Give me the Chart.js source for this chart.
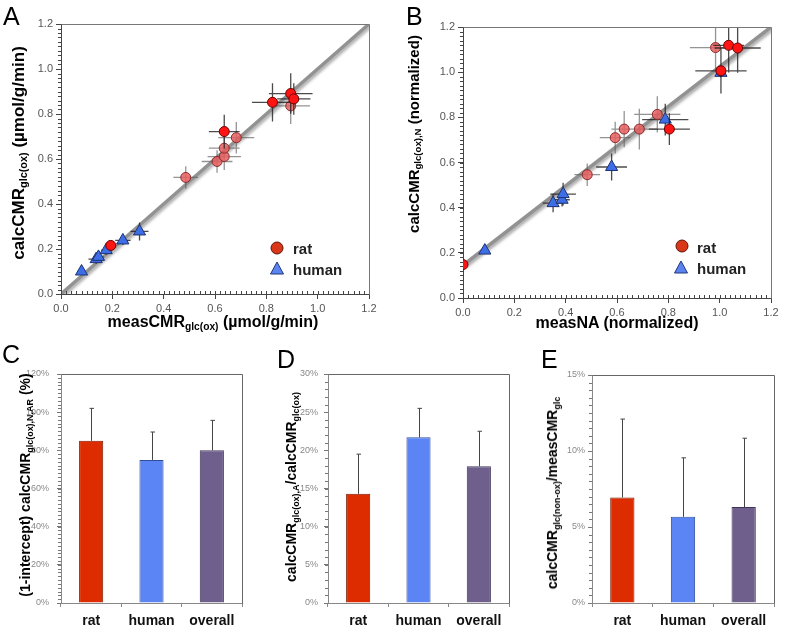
<!DOCTYPE html>
<html lang="en">
<head>
<meta charset="utf-8">
<title>calcCMR vs measCMR</title>
<script src="https://cdn.jsdelivr.net/npm/chart.js"></script>
<style>
    body { margin: 0; background: #fff; font-family: "Liberation Sans", Arial, sans-serif; }
    #fig { position: relative; width: 785px; height: 630px; overflow: hidden; }
    canvas { position: absolute; }
    .letter { position: absolute; font-size: 25px; line-height: 1; color: #000; }
    .ytitle, .xtitle { position: absolute; white-space: nowrap; font-weight: bold; color: #000; line-height: 1; }
    .ytitle { transform: translate(-50%, -50%) rotate(-90deg); }
    .xtitle { transform: translate(-50%, -50%); }
    sub { font-size: 0.64em; vertical-align: -0.3em; line-height: 0; }
    .leg { position: absolute; font-size: 15px; font-weight: bold; color: #222; line-height: 1; transform: translateY(-50%); }
    .dot { position: absolute; width: 11px; height: 11px; border-radius: 50%; background: #d9361a; border: 1px solid #5a1505; transform: translate(-50%, -50%); }
    .tri { position: absolute; transform: translate(-50%, -50%); }
</style>
</head>
<body>
<div id="fig">
    <canvas id="chartA" width="390" height="325" style="left:0;top:0"></canvas>
    <canvas id="chartB" width="395" height="325" style="left:390px;top:0"></canvas>
    <canvas id="chartC" width="260" height="300" style="left:0;top:330px"></canvas>
    <canvas id="chartD" width="260" height="300" style="left:260px;top:330px"></canvas>
    <canvas id="chartE" width="265" height="300" style="left:520px;top:330px"></canvas>

    <div class="letter" style="left:3px;top:4px">A</div>
    <div class="letter" style="left:406px;top:4px">B</div>
    <div class="letter" style="left:2px;top:342px">C</div>
    <div class="letter" style="left:277px;top:347px">D</div>
    <div class="letter" style="left:541px;top:347px">E</div>

    <div class="ytitle" style="left:18px;top:153px;font-size:17px">calcCMR<sub>glc(ox)</sub> (µmol/g/min)</div>
    <div class="xtitle" style="left:213px;top:322px;font-size:16px">measCMR<sub>glc(ox)</sub> (µmol/g/min)</div>
    <div class="ytitle" style="left:413px;top:134px;font-size:15px">calcCMR<sub>glc(ox),N</sub> (normalized)</div>
    <div class="xtitle" style="left:617px;top:323px;font-size:16px">measNA (normalized)</div>
    <div class="ytitle" style="left:25px;top:485px;font-size:14px">(1-intercept) calcCMR<sub>glc(ox),N,AR</sub> (%)</div>
    <div class="ytitle" style="left:291px;top:487px;font-size:14px">calcCMR<sub>glc(ox),A</sub>/calcCMR<sub>glc(ox)</sub></div>
    <div class="ytitle" style="left:552px;top:493px;font-size:14px">calcCMR<sub>glc(non-ox)</sub>/measCMR<sub>glc</sub></div>

    <div class="dot" style="left:277px;top:248px"></div>
    <div class="leg" style="left:293px;top:248px">rat</div>
    <svg class="tri" style="left:277px;top:268px" width="15" height="14"><polygon points="7.5,1 14,13 1,13" fill="#5b84f0" stroke="#23397a" stroke-width="1"/></svg>
    <div class="leg" style="left:293px;top:269px">human</div>

    <div class="dot" style="left:682px;top:246px"></div>
    <div class="leg" style="left:697px;top:247px">rat</div>
    <svg class="tri" style="left:681px;top:267px" width="15" height="14"><polygon points="7.5,1 14,13 1,13" fill="#5b84f0" stroke="#23397a" stroke-width="1"/></svg>
    <div class="leg" style="left:697px;top:268px">human</div>
</div>
<script>
    // ---- panel A : calcCMR vs measCMR (umol/g/min)
    const ratA_x = [0.194, 0.636, 0.824, 0.895, 0.907];
    const ratA_y = [0.216, 0.722, 0.852, 0.891, 0.867];
    const ratA_xErr = [0.02, 0.06, 0.08, 0.085, 0.065];
    const ratA_yErr = [0.015, 0.075, 0.085, 0.09, 0.07];
    const ratA2_x = [0.486, 0.608, 0.636, 0.636, 0.683, 0.895];
    const ratA2_y = [0.518, 0.589, 0.611, 0.648, 0.695, 0.836];
    const ratA2_xErr = [0.048, 0.06, 0.065, 0.06, 0.07, 0.075];
    const ratA2_yErr = [0.05, 0.05, 0.06, 0.06, 0.07, 0.08];
    const humA_x = [0.08, 0.137, 0.146, 0.176, 0.241, 0.306];
    const humA_y = [0.10, 0.155, 0.165, 0.195, 0.238, 0.278];
    const humA_xErr = [0.015, 0.03, 0.02, 0.02, 0.03, 0.035];
    const humA_yErr = [0.01, 0.02, 0.02, 0.02, 0.02, 0.04];
    const lineA_x = [0, 1.2];
    const lineA_y = [0, 1.2];

    // ---- panel B : normalized
    const ratB_x = [0.0, 0.804, 1.005, 1.035, 1.07];
    const ratB_y = [0.148, 0.748, 1.006, 1.119, 1.107];
    const ratB_xErr = [0, 0.08, 0.1, 0.06, 0.09];
    const ratB_yErr = [0, 0.07, 0.1, 0.12, 0.11];
    const ratB2_x = [0.484, 0.593, 0.628, 0.687, 0.757, 0.984];
    const ratB2_y = [0.546, 0.71, 0.748, 0.748, 0.813, 1.109];
    const ratB2_xErr = [0.05, 0.06, 0.05, 0.07, 0.09, 0.1];
    const ratB2_yErr = [0.05, 0.07, 0.08, 0.09, 0.08, 0.1];
    const humB_x = [0.085, 0.351, 0.386, 0.39, 0.579, 0.788, 1.005];
    const humB_y = [0.21, 0.42, 0.435, 0.46, 0.58, 0.79, 0.997];
    const humB_xErr = [0.01, 0.04, 0.03, 0.05, 0.06, 0.09, 0.02];
    const humB_yErr = [0.01, 0.04, 0.03, 0.05, 0.06, 0.07, 0.02];
    const lineB_x = [0, 1.2];
    const lineB_y = [0.145, 1.2];

    // ---- panels C, D, E : bars
    const groups = ['rat', 'human', 'overall'];
    const valC = [85, 75, 80];
    const errC = [17, 14.6, 15.7];
    const valD = [14.3, 21.7, 17.9];
    const errD = [5.2, 3.8, 4.6];
    const valE = [6.94, 5.67, 6.31];
    const errE = [5.16, 3.88, 4.53];

    const barColors = ['#dd2c00', '#5b84f5', '#6e5f8c'];
    const barBorders = ['#7a1800', '#2f4f9a', '#3f3556'];
    const fam = '"Liberation Sans", Arial, sans-serif';

    function pts(xs, ys) {
        return xs.map((x, i) => ({ x: x, y: ys[i] }));
    }

    // error bars for scatter (x/y) and for bars (upper only)
    const errorBars = {
        id: 'errorBars',
        beforeDatasetDraw(chart, args) {
            const ds = chart.data.datasets[args.index];
            if (!ds.xErr && !ds.yErr) return;
            const ctx = chart.ctx, a = chart.chartArea;
            const xs = chart.scales.x, ys = chart.scales.y;
            ctx.save();
            ctx.beginPath();
            ctx.rect(a.left, a.top, a.right - a.left, a.bottom - a.top);
            ctx.clip();
            ctx.strokeStyle = ds.errColor;
            ctx.lineWidth = 1.3;
            ctx.beginPath();
            ds.data.forEach((p, i) => {
                const px = xs.getPixelForValue(p.x), py = ys.getPixelForValue(p.y);
                if (ds.xErr[i]) {
                    ctx.moveTo(xs.getPixelForValue(p.x - ds.xErr[i]), py);
                    ctx.lineTo(xs.getPixelForValue(p.x + ds.xErr[i]), py);
                }
                if (ds.yErr[i]) {
                    ctx.moveTo(px, ys.getPixelForValue(p.y - ds.yErr[i]));
                    ctx.lineTo(px, ys.getPixelForValue(p.y + ds.yErr[i]));
                }
            });
            ctx.stroke();
            ctx.restore();
        },
        afterDatasetDraw(chart, args) {
            const ds = chart.data.datasets[args.index];
            if (!ds.err) return;
            const ctx = chart.ctx, ys = chart.scales.y;
            ctx.save();
            ctx.strokeStyle = '#444';
            ctx.lineWidth = 1;
            ctx.beginPath();
            args.meta.data.forEach((bar, i) => {
                const x = Math.round(bar.x) + 0.5;
                const top = ys.getPixelForValue(ds.data[i] + ds.err[i]);
                ctx.moveTo(x, ys.getPixelForValue(ds.data[i]));
                ctx.lineTo(x, top);
                ctx.moveTo(x - 2, top);
                ctx.lineTo(x + 2.5, top);
            });
            ctx.stroke();
            ctx.restore();
        }
    };

    // drop shadow under the diagonal line
    const lineShadow = {
        id: 'lineShadow',
        beforeDatasetDraw(chart, args) {
            if (!chart.data.datasets[args.index].shadow) return;
            const ctx = chart.ctx;
            ctx.save();
            ctx.shadowColor = 'rgba(0,0,0,0.35)';
            ctx.shadowOffsetX = 1.5;
            ctx.shadowOffsetY = 2;
            ctx.shadowBlur = 3;
        },
        afterDatasetDraw(chart, args) {
            if (!chart.data.datasets[args.index].shadow) return;
            chart.ctx.restore();
        }
    };

    // minor ticks + top/right frame
    const frame = {
        id: 'frame',
        afterDraw(chart, args, opts) {
            const ctx = chart.ctx, a = chart.chartArea;
            ctx.save();
            ctx.strokeStyle = opts.tickColor || '#555';
            ctx.lineWidth = 1;
            ctx.beginPath();
            if (opts.minorY) {
                const s = chart.scales.y, n = Math.round((s.max - s.min) / opts.minorY);
                for (let i = 0; i <= n; i++) {
                    const p = Math.round(s.getPixelForValue(s.min + i * opts.minorY)) + 0.5;
                    ctx.moveTo(a.left - 3, p);
                    ctx.lineTo(a.left, p);
                }
            }
            if (opts.minorX) {
                const s = chart.scales.x, n = Math.round((s.max - s.min) / opts.minorX);
                for (let i = 0; i <= n; i++) {
                    const p = Math.round(s.getPixelForValue(s.min + i * opts.minorX)) + 0.5;
                    ctx.moveTo(p, a.bottom - 3);
                    ctx.lineTo(p, a.bottom);
                }
            }
            ctx.stroke();
            ctx.strokeStyle = opts.boxColor || '#999';
            ctx.beginPath();
            ctx.moveTo(Math.round(a.left) + 0.5, Math.round(a.top) + 0.5);
            ctx.lineTo(Math.round(a.right) + 0.5, Math.round(a.top) + 0.5);
            ctx.lineTo(Math.round(a.right) + 0.5, Math.round(a.bottom) + 0.5);
            ctx.stroke();
            ctx.restore();
        }
    };

    function scatterChart(id, pad, sets, lx, ly) {
        const datasets = [
            {
                data: pts(sets.rat[0], sets.rat[1]), xErr: sets.rat[2], yErr: sets.rat[3],
                pointStyle: 'circle', pointRadius: 5, backgroundColor: '#ff1414', borderColor: '#6a0000',
                borderWidth: 1, errColor: 'rgba(30,30,30,0.8)', order: 0
            },
            {
                data: pts(sets.rat2[0], sets.rat2[1]), xErr: sets.rat2[2], yErr: sets.rat2[3],
                pointStyle: 'circle', pointRadius: 5, backgroundColor: 'rgba(232,96,96,0.85)', borderColor: '#8a2a2a',
                borderWidth: 1, errColor: 'rgba(90,90,90,0.65)', order: 1
            },
            {
                data: pts(sets.hum[0], sets.hum[1]), xErr: sets.hum[2], yErr: sets.hum[3],
                pointStyle: 'triangle', pointRadius: 7, backgroundColor: '#3d6ee8', borderColor: '#1c3270',
                borderWidth: 1, errColor: 'rgba(30,30,30,0.8)', order: 2
            },
            {
                data: pts(lx, ly), showLine: true, pointRadius: 0, borderColor: '#929292',
                borderWidth: 3.5, shadow: true, order: 5
            }
        ];
        const axis = (afterFit) => ({
            type: 'linear', min: 0, max: 1.2,
            ticks: { stepSize: 0.2, callback: v => v.toFixed(1), color: '#555', font: { family: fam, size: 11 }, padding: 3 },
            grid: { drawOnChartArea: false, tickLength: 5, tickColor: '#444' },
            border: { color: '#444', width: 1 },
            afterFit: afterFit
        });
        return new Chart(document.getElementById(id), {
            type: 'scatter',
            data: { datasets: datasets },
            options: {
                responsive: false,
                animation: false,
                layout: { padding: pad },
                plugins: {
                    legend: { display: false }, tooltip: { enabled: false },
                    frame: { minorX: 0.02, minorY: 0.02, tickColor: '#444', boxColor: '#777' }
                },
                scales: {
                    x: axis(s => { s.height = 20; }),
                    y: axis(s => { s.width = 40; })
                }
            },
            plugins: [lineShadow, errorBars, frame]
        });
    }

    function barChart(id, pad, vals, errs, max, step, minor, labPad) {
        return new Chart(document.getElementById(id), {
            type: 'bar',
            data: {
                labels: groups,
                datasets: [{
                    data: vals, err: errs, backgroundColor: barColors, borderColor: barBorders,
                    borderWidth: 1, barPercentage: 0.4, categoryPercentage: 1
                }]
            },
            options: {
                responsive: false,
                animation: false,
                layout: { padding: pad },
                plugins: {
                    legend: { display: false }, tooltip: { enabled: false },
                    frame: { minorY: minor, tickColor: '#777', boxColor: '#666' }
                },
                scales: {
                    x: {
                        ticks: { color: '#111', font: { family: fam, size: 14, weight: 'bold' }, padding: 6 },
                        grid: { drawOnChartArea: false, tickLength: 4, tickColor: '#888' },
                        border: { color: '#888' },
                        afterFit: s => { s.height = 25; }
                    },
                    y: {
                        min: 0, max: max,
                        ticks: { stepSize: step, callback: v => v + '%', color: '#888', font: { family: fam, size: 9 }, padding: labPad },
                        grid: { drawOnChartArea: false, tickLength: 4, tickColor: '#777' },
                        border: { color: '#888' },
                        afterFit: s => { s.width = 35; }
                    }
                }
            },
            plugins: [errorBars, frame]
        });
    }

    scatterChart('chartA', { left: 21, right: 21, top: 24, bottom: 11 },
        { rat: [ratA_x, ratA_y, ratA_xErr, ratA_yErr], rat2: [ratA2_x, ratA2_y, ratA2_xErr, ratA2_yErr], hum: [humA_x, humA_y, humA_xErr, humA_yErr] },
        lineA_x, lineA_y);
    scatterChart('chartB', { left: 33, right: 14, top: 27, bottom: 7 },
        { rat: [ratB_x, ratB_y, ratB_xErr, ratB_yErr], rat2: [ratB2_x, ratB2_y, ratB2_xErr, ratB2_yErr], hum: [humB_x, humB_y, humB_xErr, humB_yErr] },
        lineB_x, lineB_y);

    barChart('chartC', { left: 26, right: 18, top: 44, bottom: 2 }, valC, errC, 120, 20, 2, 8);
    barChart('chartD', { left: 33, right: 11, top: 44, bottom: 2 }, valD, errD, 30, 5, 1, 6);
    barChart('chartE', { left: 37, right: 11, top: 45, bottom: 2 }, valE, errE, 15, 5, 0.5, 3);
</script>
</body>
</html>
